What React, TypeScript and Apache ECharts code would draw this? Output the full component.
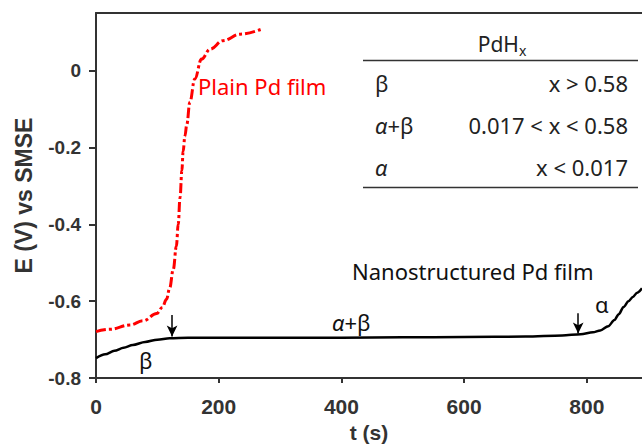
import React, { useEffect, useRef } from "react";
import * as echarts from "echarts";

// Plain Pd film (red dash-dot)
const plainT = [0, 23, 55, 77, 99, 108, 115, 120, 126, 131, 134, 137, 140, 142, 145, 148, 153, 161, 172, 186, 207, 235, 270];
const plainE = [-0.679, -0.673, -0.662, -0.651, -0.632, -0.616, -0.595, -0.566, -0.517, -0.457, -0.4, -0.33, -0.26, -0.21, -0.17, -0.14, -0.082, -0.022, 0.03, 0.056, 0.078, 0.095, 0.108];

// Nanostructured Pd film (black)
const nanoT = [0, 15, 30, 45, 60, 80, 100, 120, 150, 200, 300, 400, 500, 600, 700, 760, 790, 810, 822, 835, 845, 852, 860, 868, 875, 882, 890];
const nanoE = [-0.748, -0.738, -0.729, -0.721, -0.714, -0.706, -0.7, -0.696, -0.695, -0.695, -0.695, -0.695, -0.694, -0.693, -0.692, -0.689, -0.686, -0.681, -0.676, -0.665, -0.649, -0.634, -0.615, -0.6, -0.589, -0.578, -0.566];

const xTicks = [0, 200, 400, 600, 800];
const yTicks = [-0.8, -0.6, -0.4, -0.2, 0];

// Table rows
const tablePhases = ["β", "α+β", "α"];
const tableRanges = ["x > 0.58", "0.017 < x < 0.58", "x < 0.017"];

const AXIS_COLOR = "#333";
const TEXT_FONT = "'Noto Sans', 'Open Sans', sans-serif";
const AXIS_FONT = "'Liberation Sans', Arial, sans-serif";

export default function App() {
  const ref = useRef<HTMLDivElement>(null);

  useEffect(() => {
    document.body.style.margin = "0";
    if (!ref.current) return;
    const chart = echarts.init(ref.current, undefined, { renderer: "svg" });

    const plainData = plainT.map((t, i) => [t, plainE[i]]);
    const nanoData = nanoT.map((t, i) => [t, nanoE[i]]);

    const phaseText = (p: string) =>
      p.startsWith("α") ? `{i|α}{n|${p.slice(1)}}` : `{n|${p}}`;

    const rowY = [83, 125, 167];
    const tableGraphics: any[] = [
      {
        type: "text",
        x: 502,
        y: 44,
        style: {
          text: "{n|PdH}{s|x}",
          align: "center",
          verticalAlign: "middle",
          rich: {
            n: { fontFamily: TEXT_FONT, fontSize: 21, fill: "#222" },
            s: { fontFamily: TEXT_FONT, fontSize: 14, fill: "#222", padding: [12, 0, 0, 0] },
          },
        },
      },
      { type: "line", shape: { x1: 363, y1: 60.5, x2: 638, y2: 60.5 }, style: { stroke: AXIS_COLOR, lineWidth: 1.5 } },
      { type: "line", shape: { x1: 363, y1: 187.5, x2: 638, y2: 187.5 }, style: { stroke: AXIS_COLOR, lineWidth: 1.5 } },
    ];
    tablePhases.forEach((p, i) => {
      tableGraphics.push({
        type: "text",
        x: 375,
        y: rowY[i],
        style: {
          text: phaseText(p),
          align: "left",
          verticalAlign: "middle",
          rich: {
            i: { fontFamily: TEXT_FONT, fontSize: 22, fontStyle: "italic", fill: "#222" },
            n: { fontFamily: TEXT_FONT, fontSize: 22, fill: "#222" },
          },
        },
      });
      tableGraphics.push({
        type: "text",
        x: 628,
        y: rowY[i],
        style: {
          text: tableRanges[i],
          align: "right",
          verticalAlign: "middle",
          fontFamily: TEXT_FONT,
          fontSize: 22,
          fill: "#222",
        },
      });
    });

    const annText = (x: number, y: number, text: string, fill = "#111", extra: any = {}) => ({
      type: "text",
      x,
      y,
      style: { text, fontFamily: TEXT_FONT, fontSize: 22, fill, align: "left", verticalAlign: "middle", ...extra },
    });

    const option: any = {
      animation: false,
      grid: { left: 96, top: 13, right: 0, bottom: 69, containLabel: false },
      xAxis: [
        {
          type: "value",
          min: 0,
          max: 890,
          interval: 200,
          name: "t (s)",
          nameLocation: "middle",
          nameGap: 36,
          nameTextStyle: { fontFamily: AXIS_FONT, fontWeight: "bold", fontSize: 21, color: AXIS_COLOR },
          axisLine: { show: true, onZero: false, lineStyle: { color: AXIS_COLOR, width: 2 } },
          axisTick: { show: true, length: 5, customValues: xTicks, lineStyle: { color: AXIS_COLOR, width: 2 } },
          axisLabel: { customValues: xTicks, margin: 18, fontFamily: AXIS_FONT, fontWeight: "bold", fontSize: 21, color: AXIS_COLOR },
          splitLine: { show: false },
        },
        {
          type: "value",
          position: "top",
          min: 0,
          max: 890,
          axisLine: { show: true, onZero: false, lineStyle: { color: AXIS_COLOR, width: 2 } },
          axisTick: { show: false },
          axisLabel: { show: false },
          splitLine: { show: false },
        },
      ],
      yAxis: {
        type: "value",
        min: -0.8,
        max: 0.15,
        interval: 0.2,
        name: "E (V) vs SMSE",
        nameLocation: "middle",
        nameGap: 61,
        nameTextStyle: { fontFamily: AXIS_FONT, fontWeight: "bold", fontSize: 23, color: AXIS_COLOR },
        axisLine: { show: true, onZero: false, lineStyle: { color: AXIS_COLOR, width: 2 } },
        axisTick: { show: true, length: 7, customValues: yTicks, lineStyle: { color: AXIS_COLOR, width: 2 } },
        axisLabel: {
          customValues: yTicks,
          margin: 15,
          fontFamily: AXIS_FONT,
          fontWeight: "bold",
          fontSize: 19,
          color: AXIS_COLOR,
          formatter: (v: number) => (Math.abs(v) < 1e-9 ? "0" : String(Math.round(v * 10) / 10)),
        },
        splitLine: { show: false },
      },
      series: [
        {
          name: "Plain Pd film",
          type: "line",
          data: plainData,
          smooth: 0.4,
          smoothMonotone: "x",
          showSymbol: false,
          lineStyle: { color: "#ff0000", width: 3, type: [10, 3, 3, 3], cap: "butt" },
          silent: true,
        },
        {
          name: "Nanostructured Pd film",
          type: "line",
          data: nanoData,
          smooth: 0.3,
          smoothMonotone: "x",
          showSymbol: false,
          lineStyle: { color: "#000", width: 2.5 },
          silent: true,
          markLine: {
            silent: true,
            symbol: ["none", "arrow"],
            symbolSize: [8, 11],
            label: { show: false },
            lineStyle: { color: "#000", width: 1.5, type: "solid" },
            data: [
              [{ coord: [124, -0.636] }, { coord: [124, -0.692] }],
              [{ coord: [786, -0.631] }, { coord: [786, -0.684] }],
            ],
          },
        },
      ],
      graphic: [
        annText(198, 86, "Plain Pd film", "#ff0000"),
        annText(352, 271, "Nanostructured Pd film"),
        {
          type: "text",
          x: 332,
          y: 322,
          style: {
            text: "{i|α}{n|+β}",
            align: "left",
            verticalAlign: "middle",
            rich: {
              i: { fontFamily: TEXT_FONT, fontSize: 22, fontStyle: "italic", fill: "#111" },
              n: { fontFamily: TEXT_FONT, fontSize: 22, fill: "#111" },
            },
          },
        },
        annText(139, 360, "β"),
        annText(595, 304, "α"),
        ...tableGraphics,
      ],
    };

    chart.setOption(option);
    return () => chart.dispose();
  }, []);

  return (
    <div
      ref={ref}
      style={{ position: "fixed", left: 0, top: 0, width: 642, height: 448, background: "#fff" }}
    />
  );
}
